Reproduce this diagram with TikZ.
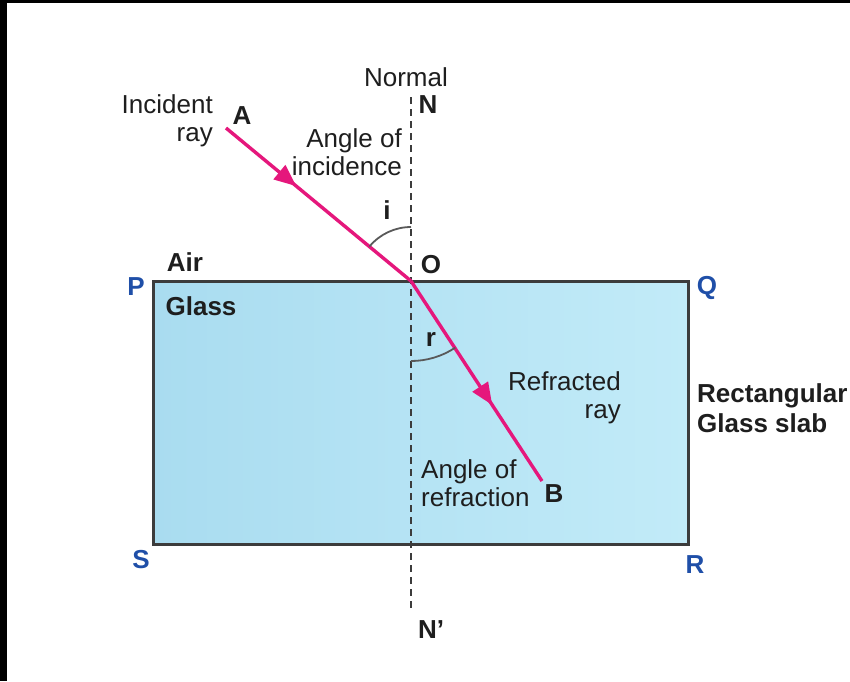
\documentclass[tikz,border=0pt]{standalone}
\usepackage{fontspec}
\setmainfont{Liberation Sans}
\usetikzlibrary{arrows.meta,decorations.markings,calc}
\definecolor{raycol}{HTML}{E5177C}
\definecolor{ptblue}{HTML}{1F4FA8}
\definecolor{txtcol}{HTML}{1E1E1E}
\definecolor{edgecol}{HTML}{3C3C3C}
\definecolor{glassL}{HTML}{A9DCF0}
\definecolor{glassR}{HTML}{C2EBF8}
\tikzset{
  lbl/.style={inner sep=0pt, text=txtcol, font=\fontsize{26}{28}\selectfont},
  blbl/.style={lbl, font=\fontsize{26}{30}\selectfont\bfseries},
  ptlbl/.style={blbl, text=ptblue},
  lightray/.style={draw=raycol, line width=3.4pt},
  midarrow/.style={postaction={decorate, decoration={markings,
      mark=at position #1 with {\arrow[raycol]{Triangle[length=22pt,width=18pt]}}}}},
  normalline/.style={draw=edgecol, line width=2.2pt, dash pattern=on 7pt off 5pt},
  anglearc/.style={draw=edgecol!85, line width=1.8pt}
}
\begin{document}
\begin{tikzpicture}[x=1pt,y=-1pt]
\useasboundingbox (0,0) rectangle (850,681);
\fill[white] (0,0) rectangle (850,681);
\fill[black] (0,0) rectangle (850,3);
\fill[black] (0,0) rectangle (7,681);

% glass slab
\coordinate (Pc) at (153,281);
\coordinate (Rc) at (688,544);
\shade[left color=glassL, right color=glassR] (Pc) rectangle (Rc);
\draw[edgecol, line width=3pt] (Pc) rectangle (Rc);

% normal
\coordinate (Ntop) at (411,97);
\coordinate (Nbot) at (411,612);
\draw[normalline] (Ntop) -- (Nbot);

% rays
\coordinate (A) at (226,128);
\coordinate (O) at (411,281);
\coordinate (B) at (542,481);
\draw[lightray, midarrow=0.38] (A) -- (O);
\draw[lightray, midarrow=0.62] (O) -- (B);

% angle arcs
\draw[anglearc] ($(O)+(219.6:54)$) arc[start angle=219.6, end angle=270, radius=54];
\draw[anglearc] ($(O)+(90:80)$) arc[start angle=90, end angle=56.4, radius=80];

% labels
\node[lbl] (normal) at (406,77) {Normal};
\node[blbl] (Nl) at (428,105) {N};
\node[lbl, align=right, anchor=east] (incray) at (213,121) {Incident\\ray};
\node[blbl] (Al) at (242,116) {A};
\node[lbl, align=right, anchor=east] (angi) at (402,152) {Angle of\\incidence};
\node[blbl] (il) at (387,210) {i};
\node[blbl] (air) at (185,262) {Air};
\node[blbl] (Ol) at (431,265) {O};
\node[ptlbl] (Pl) at (136,287) {P};
\node[ptlbl] (Ql) at (707,288) {Q};
\node[blbl] (glass) at (201,306) {Glass};
\node[blbl] (rl) at (431,339) {r};
\node[lbl, align=right, anchor=east] (refray) at (621,398) {Refracted\\ray};
\node[blbl, align=left, anchor=west] (slab) at (697,408) {Rectangular\\Glass slab};
\node[lbl, align=left, anchor=west] (angr) at (421,483) {Angle of\\refraction};
\node[blbl] (Bl) at (554,494) {B};
\node[ptlbl] (Sl) at (141,560) {S};
\node[ptlbl] (Rl) at (695,565) {R};
\node[blbl] (Np) at (431,630) {N’};
\end{tikzpicture}
\end{document}
